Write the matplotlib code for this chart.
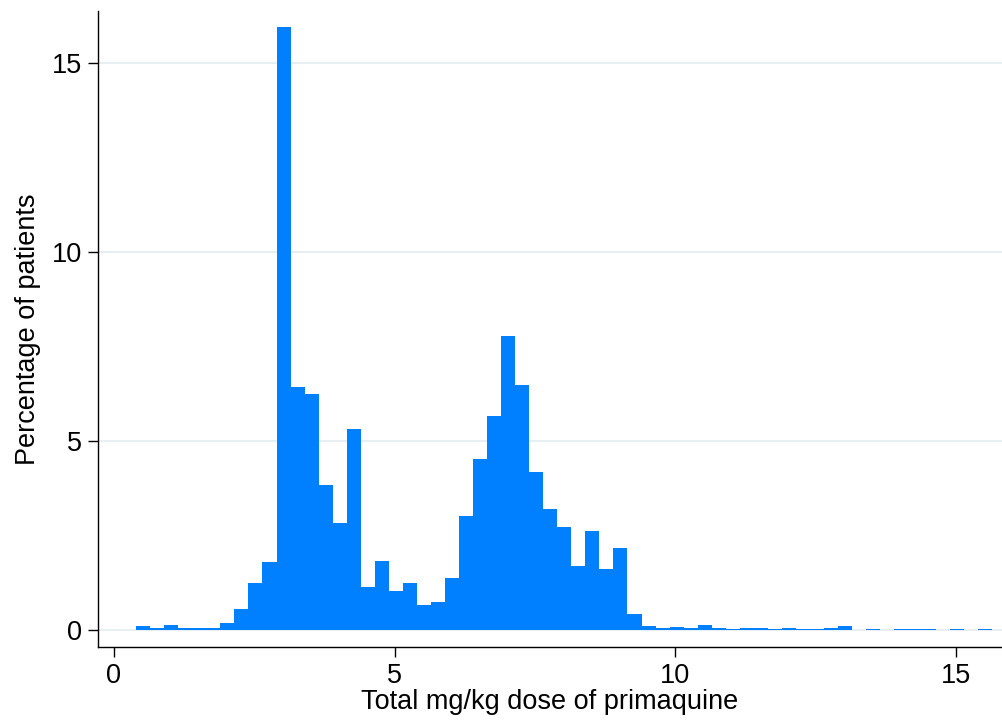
import matplotlib
matplotlib.use("Agg")
import numpy as np
import matplotlib.pyplot as plt

# histogram bins (Stata style: width 0.25 starting at the minimum dose)
bin_start = 0.395
bin_width = 0.25
percent = [
    0.11, 0.04, 0.14, 0.06, 0.06, 0.06, 0.19, 0.54, 1.23, 1.81,
    15.96, 6.43, 6.25, 3.83, 2.82, 5.33, 1.13, 1.82, 1.02, 1.23,
    0.65, 0.73, 1.37, 3.01, 4.52, 5.65, 7.78, 6.49, 4.18, 3.19,
    2.72, 1.69, 2.61, 1.61, 2.16, 0.43, 0.11, 0.05, 0.08, 0.05,
    0.13, 0.05, 0.03, 0.05, 0.05, 0.03, 0.05, 0.013, 0.013, 0.05,
    0.11, 0.0, 0.026, 0.0, 0.026, 0.02, 0.026, 0.0, 0.026, 0.0,
    0.026, 0.0,
]
x_ticks = [0, 5, 10, 15]
y_ticks = [0, 5, 10, 15]

plt.rcParams["font.family"] = ["Liberation Sans", "DejaVu Sans"]

lefts = bin_start + bin_width * np.arange(len(percent))

fig = plt.figure(figsize=(10.02, 7.24), dpi=100)
ax = fig.add_axes([0.0975, 0.106, 0.9025, 0.879])

ax.bar(lefts, percent, width=bin_width, align="edge", color="#0080ff",
       linewidth=0, zorder=2)

ax.set_xlim(-0.29, 15.815)
ax.set_ylim(-0.46, 16.39)
ax.set_xticks(x_ticks)
ax.set_yticks(y_ticks)
ax.yaxis.grid(True, color="#e8eff2", linewidth=1.5, zorder=0)
ax.set_axisbelow(True)

for side in ["top", "right"]:
    ax.spines[side].set_visible(False)
for side in ["left", "bottom"]:
    ax.spines[side].set_linewidth(1.0)
    ax.spines[side].set_color("black")

ax.tick_params(axis="both", direction="out", length=7, width=1.0,
               labelsize=19.5, colors="black")
ax.tick_params(axis="x", pad=4)
ax.tick_params(axis="y", pad=4)

ax.set_xlabel("Total mg/kg dose of primaquine", fontsize=19.5, labelpad=0)
ax.set_ylabel("Percentage of patients", fontsize=19.5, labelpad=8)

fig.savefig("out.png", dpi=100)
